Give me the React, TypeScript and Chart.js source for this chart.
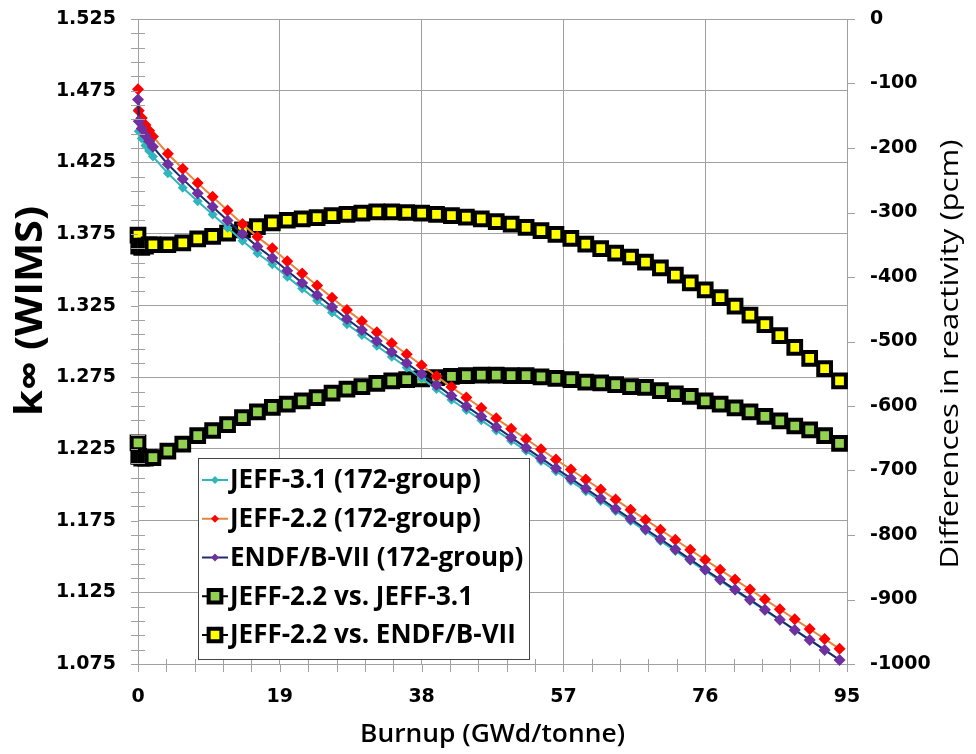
import React, { useEffect, useRef } from 'react';
import { Chart, registerables } from 'chart.js';

Chart.register(...registerables);

// ---- Data ----
const burnup = [0, 0.1, 0.5, 1, 1.5, 2, 4, 6, 8, 10, 12, 14, 16, 18, 20, 22, 24, 26, 28, 30, 32, 34, 36, 38, 40, 42, 44, 46, 48, 50, 52, 54, 56, 58, 60, 62, 64, 66, 68, 70, 72, 74, 76, 78, 80, 82, 84, 86, 88, 90, 92, 94];

const kJeff31 = [1.4618, 1.4467, 1.4417, 1.4368, 1.4329, 1.429, 1.4174, 1.4073, 1.3978, 1.3886, 1.3793, 1.3703, 1.3616, 1.3539, 1.3451, 1.3369, 1.3286, 1.3203, 1.3121, 1.3045, 1.297, 1.2894, 1.2819, 1.2743, 1.2668, 1.2594, 1.2522, 1.245, 1.2379, 1.2308, 1.2237, 1.2166, 1.2095, 1.2026, 1.1956, 1.1887, 1.1818, 1.1748, 1.1679, 1.1609, 1.1539, 1.147, 1.14, 1.1331, 1.1262, 1.1193, 1.1124, 1.1056, 1.0986, 1.0918, 1.0849, 1.0779];

const kJeff22 = [1.476, 1.461, 1.456, 1.451, 1.447, 1.443, 1.431, 1.4205, 1.4105, 1.401, 1.3914, 1.382, 1.373, 1.365, 1.356, 1.3475, 1.339, 1.3305, 1.322, 1.3142, 1.3065, 1.2988, 1.2911, 1.2834, 1.2758, 1.2682, 1.2609, 1.2536, 1.2464, 1.2392, 1.232, 1.2248, 1.2177, 1.2107, 1.2037, 1.1967, 1.1897, 1.1827, 1.1757, 1.1687, 1.1617, 1.1547, 1.1477, 1.1408, 1.1339, 1.127, 1.1201, 1.1132, 1.1063, 1.0994, 1.0925, 1.0856];

const kEndf = [1.4688, 1.4536, 1.4486, 1.4437, 1.4397, 1.4358, 1.4237, 1.4133, 1.4034, 1.394, 1.3844, 1.3751, 1.3662, 1.3583, 1.3493, 1.3409, 1.3324, 1.3241, 1.3157, 1.308, 1.3003, 1.2926, 1.285, 1.2773, 1.2697, 1.2621, 1.2549, 1.2476, 1.2404, 1.2331, 1.2258, 1.2186, 1.2115, 1.2045, 1.1974, 1.1904, 1.1833, 1.1763, 1.1692, 1.1622, 1.1551, 1.148, 1.1409, 1.1339, 1.1269, 1.1199, 1.1129, 1.1059, 1.0988, 1.0918, 1.0848, 1.0778];

const diffJeff22vsJeff31 = [-657, -678, -681, -681, -680, -680, -670, -659, -646, -638, -629, -618, -609, -602, -597, -592, -587, -580, -574, -570, -565, -561, -559, -558, -556, -554, -553, -552, -552, -553, -553, -555, -557, -559, -563, -564, -567, -570, -571, -576, -581, -585, -592, -597, -603, -609, -616, -623, -631, -637, -646, -658];

const diffJeff22vsEndf = [-335, -352, -354, -352, -350, -350, -350, -347, -341, -337, -332, -327, -322, -316, -312, -310, -308, -305, -303, -301, -299, -299, -300, -301, -303, -305, -307, -310, -314, -318, -323, -328, -334, -340, -349, -356, -363, -369, -377, -386, -397, -409, -420, -432, -445, -459, -474, -491, -509, -526, -542, -561];

const leftTicks = [1.075, 1.125, 1.175, 1.225, 1.275, 1.325, 1.375, 1.425, 1.475, 1.525];
const rightTicks = [-1000, -900, -800, -700, -600, -500, -400, -300, -200, -100, 0];
const xTicks = [0, 19, 38, 57, 76, 95];

const seriesLabels = [
  'JEFF-3.1 (172-group)',
  'JEFF-2.2 (172-group)',
  'ENDF/B-VII (172-group)',
  'JEFF-2.2 vs. JEFF-3.1',
  'JEFF-2.2 vs. ENDF/B-VII',
];
const xTitle = 'Burnup (GWd/tonne)';
const yTitle = 'k\u221E (WIMS)';
const y1Title = 'Differences in reactivity (pcm)';

// ---- Styles ----
const styles = [
  { line: '#2FB5BE', fill: '#2FB5BE', stroke: '#2FB5BE', shape: 'rectRot', r: 5, bw: 0, lw: 2 },
  { line: '#E9853A', fill: '#FF0000', stroke: '#FF0000', shape: 'rectRot', r: 6, bw: 0, lw: 2 },
  { line: '#1F2A6E', fill: '#7030A0', stroke: '#7030A0', shape: 'rectRot', r: 6, bw: 0, lw: 2 },
  { line: '#000000', fill: '#92D050', stroke: '#000000', shape: 'rect', r: 9, bw: 4, lw: 2 },
  { line: '#000000', fill: '#FFFF00', stroke: '#000000', shape: 'rect', r: 9, bw: 4, lw: 2 },
];

const GRID = '#A0A0A0';
const TICK_FONT = { family: '"DejaVu Sans"', size: 19, weight: 'bold' as const };

function drawMarker(ctx: CanvasRenderingContext2D, shape: string, x: number, y: number, r: number, fill: string, stroke: string, bw: number) {
  ctx.beginPath();
  if (shape === 'rect') {
    const s = Math.SQRT1_2 * r;
    ctx.rect(x - s, y - s, 2 * s, 2 * s);
  } else {
    ctx.moveTo(x, y - r);
    ctx.lineTo(x + r, y);
    ctx.lineTo(x, y + r);
    ctx.lineTo(x - r, y);
    ctx.closePath();
  }
  ctx.fillStyle = fill;
  ctx.fill();
  if (bw > 0) {
    ctx.lineWidth = bw;
    ctx.strokeStyle = stroke;
    ctx.stroke();
  }
}

function fitText(ctx: CanvasRenderingContext2D, text: string, x: number, y: number, rot: number, font: string, width: number) {
  ctx.save();
  ctx.font = font;
  ctx.translate(x, y);
  ctx.rotate(rot);
  const w = ctx.measureText(text).width;
  ctx.scale(width / w, 1);
  ctx.textAlign = 'center';
  ctx.textBaseline = 'alphabetic';
  ctx.fillStyle = '#000';
  ctx.fillText(text, 0, 0);
  ctx.restore();
}

const decorPlugin = {
  id: 'decor',
  afterDraw(chart: any) {
    const { ctx, chartArea: ca, scales } = chart;
    const xs = scales.x;
    const ys = scales.y;
    const y1 = scales.y1;
    ctx.save();
    ctx.strokeStyle = GRID;
    ctx.lineWidth = 1;
    ctx.beginPath();
    // left axis ticks (major + minor)
    for (let i = 0; i <= 45; i++) {
      const v = leftTicks[0] + i * 0.01;
      const py = Math.round(ys.getPixelForValue(v)) + 0.5;
      const major = i % 5 === 0;
      ctx.moveTo(ca.left - 7, py);
      ctx.lineTo(major ? ca.left : ca.left + 7, py);
    }
    // x axis ticks (major + minor)
    for (let i = 0; i <= 25; i++) {
      const v = i * 3.8;
      const px = Math.round(xs.getPixelForValue(v)) + 0.5;
      const major = i % 5 === 0;
      ctx.moveTo(px, ca.bottom + 8);
      ctx.lineTo(px, major ? ca.bottom : ca.bottom - 5);
    }
    // right axis ticks
    for (const v of rightTicks) {
      const py = Math.round(y1.getPixelForValue(v)) + 0.5;
      ctx.moveTo(ca.right, py);
      ctx.lineTo(ca.right + 8, py);
    }
    ctx.stroke();

    // legend
    const lx = 198, ly = 458, lw = 331, lh = 201;
    ctx.fillStyle = '#FFFFFF';
    ctx.fillRect(lx, ly, lw, lh);
    ctx.strokeStyle = '#444444';
    ctx.lineWidth = 1;
    ctx.strokeRect(lx + 0.5, ly + 0.5, lw, lh);
    for (let i = 0; i < seriesLabels.length; i++) {
      const st = styles[i];
      const cy = ly + 22 + i * 38.75;
      ctx.beginPath();
      ctx.moveTo(lx + 4, cy);
      ctx.lineTo(lx + 30, cy);
      ctx.strokeStyle = st.line;
      ctx.lineWidth = st.lw;
      ctx.stroke();
      drawMarker(ctx, st.shape, lx + 17, cy, st.shape === 'rect' ? st.r : 4, st.fill, st.stroke, st.bw);
      ctx.font = '700 26px "Open Sans"';
      ctx.fillStyle = '#000';
      ctx.textAlign = 'left';
      ctx.textBaseline = 'middle';
      ctx.fillText(seriesLabels[i], lx + 32, cy + 1);
    }

    // axis titles
    fitText(ctx, yTitle, 42, 311, -Math.PI / 2, 'bold 37px "Open Sans", "DejaVu Sans"', 210);
    fitText(ctx, y1Title, 958, 354, -Math.PI / 2, '400 25px "Open Sans"', 429);
    fitText(ctx, xTitle, (ca.left + ca.right) / 2, 742, 0, '600 25px "Open Sans"', 265);
    ctx.restore();
  },
};

const zeroPad = (s: any) => {
  s.paddingTop = 0;
  s.paddingBottom = 0;
  s.paddingLeft = 0;
  s.paddingRight = 0;
};

export default function App() {
  const ref = useRef<HTMLCanvasElement>(null);

  useEffect(() => {
    const canvas = ref.current;
    if (!canvas) return;
    const toXY = (ys: number[]) => ys.map((y, i) => ({ x: burnup[i], y }));
    const series = [kJeff31, kJeff22, kEndf, diffJeff22vsJeff31, diffJeff22vsEndf];
    const axisIds = ['y', 'y', 'y', 'y1', 'y1'];
    const orders = [2, 1, 0, 4, 3];
    const datasets = series.map((d, i) => ({
      label: seriesLabels[i],
      data: toXY(d),
      yAxisID: axisIds[i],
      showLine: true,
      borderColor: styles[i].line,
      borderWidth: styles[i].lw,
      pointStyle: styles[i].shape,
      pointRadius: styles[i].r,
      pointBackgroundColor: styles[i].fill,
      pointBorderColor: styles[i].stroke,
      pointBorderWidth: styles[i].bw,
      order: orders[i],
      clip: false as any,
      tension: 0,
    }));

    const chart = new Chart(canvas, {
      type: 'scatter',
      data: { datasets },
      plugins: [decorPlugin],
      options: {
        responsive: false,
        animation: false,
        events: [],
        layout: { padding: { top: 19, left: 0, right: 0, bottom: 0 } },
        plugins: { legend: { display: false }, tooltip: { enabled: false } },
        scales: {
          x: {
            type: 'linear',
            min: 0,
            max: 95,
            afterBuildTicks: (s: any) => { s.ticks = xTicks.map((v) => ({ value: v })); },
            afterFit: (s: any) => { s.height = 90; zeroPad(s); },
            grid: { color: GRID, drawTicks: false },
            border: { color: GRID },
            ticks: { font: TICK_FONT, color: '#000', padding: 22, maxRotation: 0, autoSkip: false },
          },
          y: {
            type: 'linear',
            position: 'left',
            min: 1.075,
            max: 1.525,
            afterBuildTicks: (s: any) => { s.ticks = leftTicks.map((v) => ({ value: v })); },
            afterFit: (s: any) => { s.width = 138; zeroPad(s); },
            grid: { color: GRID, drawTicks: false },
            border: { color: GRID },
            ticks: { font: TICK_FONT, color: '#000', padding: 22, callback: (v: any) => Number(v).toFixed(3) },
          },
          y1: {
            type: 'linear',
            position: 'right',
            min: -1000,
            max: 0,
            afterBuildTicks: (s: any) => { s.ticks = rightTicks.map((v) => ({ value: v })); },
            afterFit: (s: any) => { s.width = 129; zeroPad(s); },
            grid: { drawOnChartArea: false, drawTicks: false },
            border: { color: GRID },
            ticks: { font: TICK_FONT, color: '#000', padding: 23, callback: (v: any) => String(v) },
          },
        },
      } as any,
    });
    return () => chart.destroy();
  }, []);

  return (
    <div style={{ position: 'fixed', left: 0, top: 0, width: 976, height: 754, background: '#fff' }}>
      <canvas ref={ref} width={976} height={754} />
    </div>
  );
}
